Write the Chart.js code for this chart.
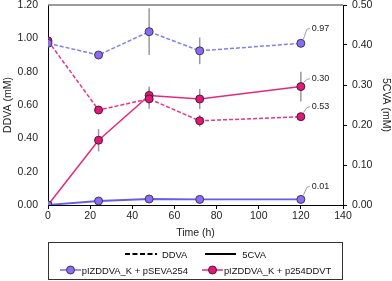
<!DOCTYPE html>
<html><head><meta charset="utf-8">
<script src="https://cdn.jsdelivr.net/npm/chart.js@4/dist/chart.umd.min.js"></script>
<style>
html,body{margin:0;padding:0;background:#fff;}
#wrap{position:relative;width:392px;height:281px;}
#legend{position:absolute;left:48px;top:242px;width:295px;height:38px;box-sizing:border-box;border:1px solid #333;font-family:"Liberation Sans",Arial,sans-serif;font-size:9.4px;color:#111;}
.row{position:absolute;left:0;right:0;display:flex;justify-content:center;align-items:center;white-space:nowrap;}
.item{display:flex;align-items:center;}
.item svg{display:block;}
</style></head>
<body><div id="wrap"><canvas id="c" width="392" height="281"></canvas>
<div id="legend">
 <div class="row" style="top:4px;height:14px;">
  <div class="item" style="margin-right:18px;"><svg width="32" height="6"><line x1="0" y1="3" x2="32" y2="3" stroke="#000" stroke-width="2" stroke-dasharray="5,2.5"/></svg><span style="margin-left:5px">DDVA</span></div>
  <div class="item"><svg width="31" height="6"><line x1="0" y1="3" x2="31" y2="3" stroke="#000" stroke-width="2"/></svg><span style="margin-left:6px">5CVA</span></div>
 </div>
 <div class="row" style="top:20px;height:14px;">
  <div class="item" style="margin-right:14px;"><svg width="21" height="10"><line x1="0" y1="5" x2="21" y2="5" stroke="#7b68ee" stroke-width="1.5"/><circle cx="10.5" cy="5" r="4" fill="#8b6cf0" stroke="#3d3560" stroke-width="1"/></svg><span style="margin-left:1px">pIZDDVA_K + pSEVA254</span></div>
  <div class="item"><svg width="21" height="10"><line x1="0" y1="5" x2="21" y2="5" stroke="#e8287a" stroke-width="1.5"/><circle cx="10.5" cy="5" r="4" fill="#e0187a" stroke="#4a1a30" stroke-width="1"/></svg><span style="margin-left:1px">pIZDDVA_K + p254DDVT</span></div>
 </div>
</div></div>
<script>
// ---- data ----
const timeH = [0, 24, 48, 72, 120];
const ddvaSEVA254 = [0.97, 0.90, 1.04, 0.925, 0.97];
const ddvaSEVA254Err = [0, 0.01, 0.14, 0.08, 0];
const cvaSEVA254 = [0, 0.010, 0.015, 0.014, 0.014];
const cvaSEVA254Err = [0, 0, 0, 0, 0];
const ddvaDDVT = [0.985, 0.57, 0.637, 0.505, 0.53];
const ddvaDDVTErr = [0, 0.01, 0.06, 0.035, 0.02];
const cvaDDVT = [0, 0.162, 0.274, 0.265, 0.296];
const cvaDDVTErr = [0, 0.028, 0.022, 0.025, 0.037];
const leftTicks = [0, 0.2, 0.4, 0.6, 0.8, 1.0, 1.2];
const rightTicks = [0, 0.1, 0.2, 0.3, 0.4, 0.5];
const xTicks = [0, 20, 40, 60, 80, 100, 120, 140];
// end-point labels (text shown beside the last point of each series)
const endLabels = ["0.97", "0.01", "0.53", "0.30"];

const FONT = '"Liberation Sans", Arial, sans-serif';
const BLUE_FILL = '#8b6cf0', BLUE_EDGE = '#3d3560';
const PINK_FILL = '#e0187a', PINK_EDGE = '#4a1a30';
const labelDy = [-15, -13, -10, -8];

function pts(vals){ return timeH.map((t,i)=>({x:t,y:vals[i]})); }

const datasets = [
 {label:'DDVA SEVA254', data:pts(ddvaSEVA254), err:ddvaSEVA254Err, yAxisID:'y', borderColor:'#7f7ff5', borderDash:[4,2], borderWidth:1.5, pointBackgroundColor:BLUE_FILL, pointBorderColor:BLUE_EDGE},
 {label:'5CVA SEVA254', data:pts(cvaSEVA254), err:cvaSEVA254Err, yAxisID:'y1', borderColor:'#6a5be8', borderWidth:1.8, pointBackgroundColor:BLUE_FILL, pointBorderColor:BLUE_EDGE},
 {label:'DDVA DDVT', data:pts(ddvaDDVT), err:ddvaDDVTErr, yAxisID:'y', borderColor:'#e8358a', borderDash:[4,2], borderWidth:1.5, pointBackgroundColor:PINK_FILL, pointBorderColor:PINK_EDGE},
 {label:'5CVA DDVT', data:pts(cvaDDVT), err:cvaDDVTErr, yAxisID:'y1', borderColor:'#e8287a', borderWidth:1.5, pointBackgroundColor:PINK_FILL, pointBorderColor:PINK_EDGE}
];
datasets.forEach(d=>{d.pointRadius=4;d.pointBorderWidth=1;d.tension=0;d.fill=false;});

const errPlugin = {
 id:'errbars',
 beforeDatasetsDraw(chart){
  const ctx=chart.ctx, xs=chart.scales.x;
  ctx.save(); ctx.strokeStyle='#9a9a9a'; ctx.lineWidth=1.5;
  chart.data.datasets.forEach(ds=>{
   const ys=chart.scales[ds.yAxisID];
   ds.data.forEach((p,i)=>{
    const e=ds.err[i]; if(!e) return;
    const x=xs.getPixelForValue(p.x);
    ctx.beginPath(); ctx.moveTo(x,ys.getPixelForValue(p.y+e)); ctx.lineTo(x,ys.getPixelForValue(p.y-e)); ctx.stroke();
   });
  });
  ctx.restore();
 },
 afterDatasetsDraw(chart){
  const ctx=chart.ctx, xs=chart.scales.x, a=chart.chartArea;
  ctx.save();
  ctx.strokeStyle='#7a7a7a'; ctx.lineWidth=1.5;
  ctx.beginPath(); ctx.moveTo(a.left,a.top); ctx.lineTo(a.right,a.top); ctx.stroke();
  ctx.font='9px '+FONT; ctx.fillStyle='#222'; ctx.textBaseline='middle';
  chart.data.datasets.forEach((ds,k)=>{
   const ys=chart.scales[ds.yAxisID];
   const p=ds.data[ds.data.length-1];
   const x=xs.getPixelForValue(p.x), y=ys.getPixelForValue(p.y);
   const ty=y+labelDy[k];
   ctx.strokeStyle='#a0a0a0'; ctx.lineWidth=1;
   ctx.beginPath(); ctx.moveTo(x+2.5,y-4); ctx.lineTo(x+6,ty+1); ctx.lineTo(x+9,ty); ctx.stroke();
   ctx.fillText(endLabels[k], x+11, ty);
  });
  ctx.restore();
 }
};

function fixV(w){ return s=>{ s.width=w; s.paddingTop=0; s.paddingBottom=0; }; }

new Chart(document.getElementById('c'),{
 type:'line',
 data:{datasets},
 options:{
  responsive:false, animation:false, devicePixelRatio:1,
  layout:{padding:{top:5,bottom:40,left:0,right:0}},
  plugins:{legend:{display:false},tooltip:{enabled:false}},
  scales:{
   x:{type:'linear',min:0,max:140,
      afterBuildTicks(s){s.ticks=xTicks.map(v=>({value:v}));},
      afterFit(s){s.height=36; s.paddingLeft=0; s.paddingRight=0;},
      border:{color:'#000',width:1},
      grid:{drawOnChartArea:false,tickLength:4,color:'#000'},
      ticks:{font:{family:FONT,size:10.5},color:'#222',padding:1,maxRotation:0},
      title:{display:true,text:'Time (h)',font:{family:FONT,size:10.5},color:'#222',padding:{top:0,bottom:2}}},
   y:{position:'left',min:0,max:1.2,
      afterBuildTicks(s){s.ticks=leftTicks.map(v=>({value:v}));},
      afterFit:fixV(48),
      border:{color:'#000',width:1},
      grid:{drawOnChartArea:false,drawTicks:false},
      ticks:{font:{family:FONT,size:10.5},color:'#222',padding:10,callback:v=>v.toFixed(2)},
      title:{display:true,text:'DDVA (mM)',font:{family:FONT,size:10.5},color:'#222',padding:{top:2,bottom:0}}},
   y1:{position:'right',min:0,max:0.5,
      afterBuildTicks(s){s.ticks=rightTicks.map(v=>({value:v}));},
      afterFit:fixV(49),
      border:{color:'#000',width:1},
      grid:{drawOnChartArea:false,tickLength:4,color:'#000'},
      ticks:{font:{family:FONT,size:10.5},color:'#222',padding:5,callback:v=>v.toFixed(2)},
      title:{display:true,text:'5CVA (mM)',font:{family:FONT,size:10.5},color:'#222',padding:{top:0,bottom:0}}}
  }
 },
 plugins:[errPlugin]
});
</script></body></html>
